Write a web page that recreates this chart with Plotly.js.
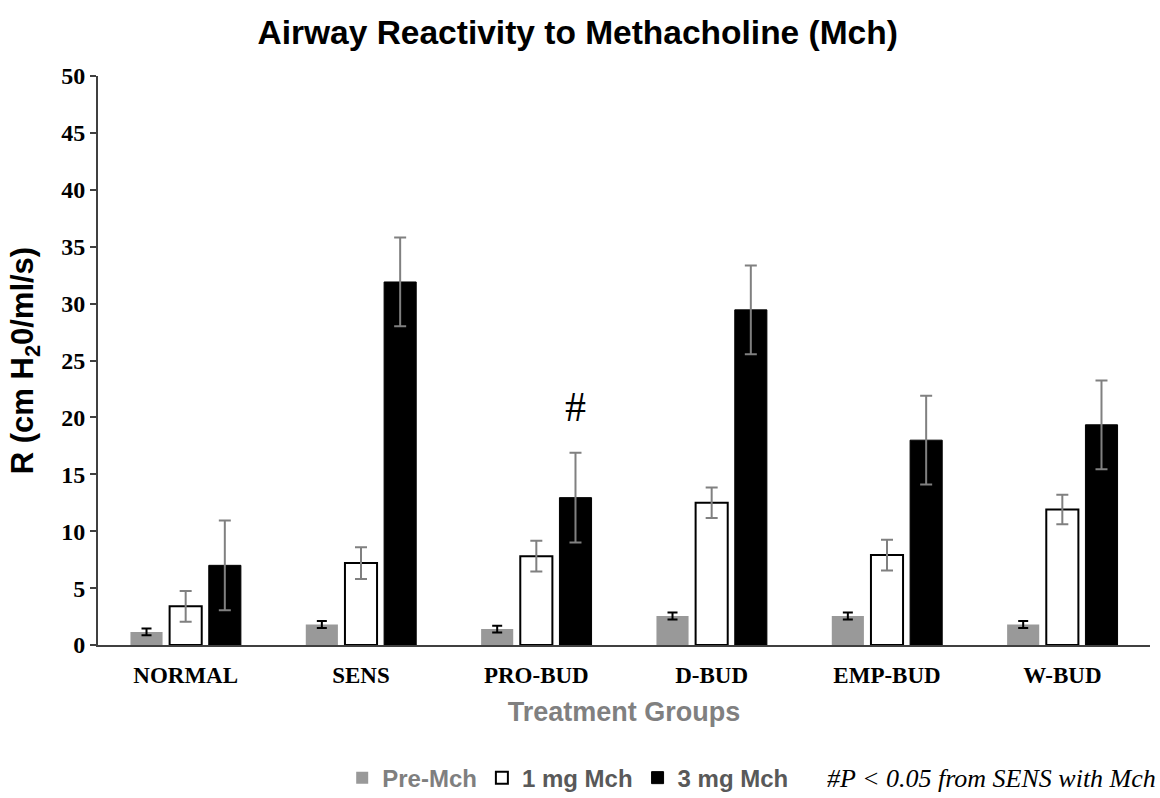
<!DOCTYPE html>
<html>
<head>
<meta charset="utf-8">
<script src="https://cdn.plot.ly/plotly-3.0.1.min.js"></script>
<style>html,body{margin:0;padding:0;background:#fff;}#chart{width:1160px;height:798px;}</style>
</head>
<body>
<div id="chart"></div>
<script>
const groups = ["NORMAL", "SENS", "PRO-BUD", "D-BUD", "EMP-BUD", "W-BUD"];
const preMch = [1.15, 1.8, 1.4, 2.55, 2.55, 1.8];
const preMchErr = [0.3, 0.3, 0.3, 0.3, 0.3, 0.3];
const mch1 = [3.4, 7.2, 7.8, 12.5, 7.9, 11.9];
const mch1Err = [1.35, 1.4, 1.35, 1.35, 1.35, 1.3];
const mch3 = [7.0, 31.9, 12.95, 29.45, 18.0, 19.35];
const mch3Err = [3.95, 3.9, 3.95, 3.9, 3.9, 3.9];
const seriesNames = ["Pre-Mch", "1 mg Mch", "3 mg Mch"];
const yTicks = [0, 5, 10, 15, 20, 25, 30, 35, 40, 45, 50];
const footnote = "#P < 0.05 from SENS with Mch";

const sans = "Liberation Sans, Arial, sans-serif";
const serif = "Liberation Serif, Times New Roman, serif";

const traces = [
  {
    type: "bar", x: groups, y: preMch, name: '<span style="color:#7f7f7f">' + seriesNames[0] + '</span>',
    marker: {color: "#999999", line: {color: "#999999", width: 0}},
    error_y: {type: "data", array: preMchErr, visible: true, color: "#000000", thickness: 2, width: 5}
  },
  {
    type: "bar", x: groups, y: mch1, name: '<span style="color:#595959">' + seriesNames[1] + '</span>',
    marker: {color: "#ffffff", line: {color: "#000000", width: 2}},
    error_y: {type: "data", array: mch1Err, visible: true, color: "#808080", thickness: 2, width: 6}
  },
  {
    type: "bar", x: groups, y: mch3, name: '<span style="color:#595959">' + seriesNames[2] + '</span>',
    marker: {color: "#000000", line: {color: "#000000", width: 1}},
    error_y: {type: "data", array: mch3Err, visible: true, color: "#808080", thickness: 2, width: 6}
  }
];

const layout = {
  width: 1160, height: 798,
  paper_bgcolor: "#ffffff", plot_bgcolor: "#ffffff",
  margin: {l: 98, r: 10, t: 76, b: 153, autoexpand: false},
  barmode: "group", bargap: 0.33, bargroupgap: 0.18,
  showlegend: true,
  title: {
    text: "<b>Airway Reactivity to Methacholine (Mch)</b>",
    font: {family: sans, size: 33.5, color: "#000000"},
    x: 0.498, xanchor: "center", y: 0.96, yanchor: "middle"
  },
  xaxis: {
    type: "category", automargin: false,
    showline: true, linecolor: "#404040", linewidth: 2,
    ticks: "", showgrid: false, zeroline: false, ticklabelstandoff: 8,
    tickfont: {family: serif, size: 23, color: "#000000", weight: "bold"},
    title: {text: "<b>Treatment Groups</b>", font: {family: sans, size: 27, color: "#808080"}, standoff: 16}
  },
  yaxis: {
    range: [0, 50], tickvals: yTicks, ticktext: yTicks.map(String), automargin: false,
    showline: true, linecolor: "#404040", linewidth: 2,
    ticks: "outside", ticklen: 6, tickwidth: 2, tickcolor: "#404040",
    showgrid: false, zeroline: false,
    tickfont: {family: serif, size: 24, color: "#000000", weight: "bold"},
    title: {text: "<b>R (cm H<sub>2</sub>0/ml/s)</b>", font: {family: sans, size: 31, color: "#000000"}, standoff: 18}
  },
  legend: {
    orientation: "h", xref: "container", yref: "container",
    x: 0.295, xanchor: "left", y: 0.025, yanchor: "middle",
    font: {family: sans, size: 24, color: "#595959", weight: "bold"},
    itemwidth: 30, tracegroupgap: 0, traceorder: "normal"
  },
  annotations: [
    {
      xref: "x", yref: "y", x: "PRO-BUD", y: 20.9, xshift: 39,
      text: "#", showarrow: false,
      font: {family: serif, size: 42, color: "#000000"}, xanchor: "center", yanchor: "middle"
    },
    {
      xref: "paper", yref: "paper", x: 1.008, y: -0.234, xanchor: "right", yanchor: "middle",
      text: "<i>" + footnote.replace("<", "&lt;") + "</i>", showarrow: false,
      font: {family: serif, size: 26, color: "#000000"}
    }
  ]
};

Plotly.newPlot("chart", traces, layout, {displayModeBar: false, staticPlot: true});
</script>
</body>
</html>
